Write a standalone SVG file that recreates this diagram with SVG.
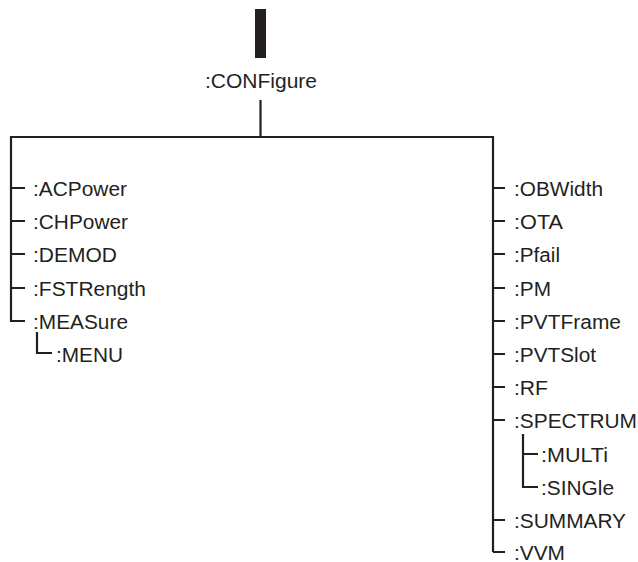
<svg xmlns="http://www.w3.org/2000/svg" width="638" height="562" viewBox="0 0 638 562">
<style>
  .t { font-family: "Liberation Sans", Arial, sans-serif; font-size: 20px; fill: #231f20; }
  .c { fill: none; stroke: #231f20; stroke-width: 2.2; stroke-linecap: butt; stroke-linejoin: miter; }
</style>
<rect width="638" height="562" fill="#ffffff"/>
<g id="root">
  <rect x="255" y="9" width="11" height="49" fill="#231f20"/>
  <text class="t" x="205" y="88" textLength="112" lengthAdjust="spacingAndGlyphs">:CONFigure</text>
</g>
<g id="connectors" class="c">
  <path d="M260.5 100 V137"/>
  <path d="M11 188 V137 H493 V552"/>
  <path d="M11 187 V321 H25"/>
  <path d="M11 188 H25 M11 221 H25 M11 254 H25 M11 288 H25"/>
  <path d="M37 332 V353 H52"/>
  <path d="M493 188 H505 M493 221 H505 M493 254 H505 M493 288 H505 M493 321 H505 M493 354 H505 M493 387 H505 M493 420 H505 M493 520 H505 M493 552 H505"/>
  <path d="M523 434 V487 H538 M523 454 H538"/>
</g>
<g id="n-acpower"><text class="t" x="33" y="195.5" textLength="94" lengthAdjust="spacingAndGlyphs">:ACPower</text></g>
<g id="n-chpower"><text class="t" x="33" y="228.5" textLength="95" lengthAdjust="spacingAndGlyphs">:CHPower</text></g>
<g id="n-demod"><text class="t" x="33" y="261.5" textLength="84" lengthAdjust="spacingAndGlyphs">:DEMOD</text></g>
<g id="n-fstrength"><text class="t" x="33" y="295.5" textLength="113" lengthAdjust="spacingAndGlyphs">:FSTRength</text></g>
<g id="n-measure"><text class="t" x="33" y="328.5" textLength="95" lengthAdjust="spacingAndGlyphs">:MEASure</text></g>
<g id="n-menu"><text class="t" x="56" y="361.5" textLength="67" lengthAdjust="spacingAndGlyphs">:MENU</text></g>
<g id="n-obwidth"><text class="t" x="514" y="195.5" textLength="89" lengthAdjust="spacingAndGlyphs">:OBWidth</text></g>
<g id="n-ota"><text class="t" x="514" y="228.5" textLength="49" lengthAdjust="spacingAndGlyphs">:OTA</text></g>
<g id="n-pfail"><text class="t" x="514" y="261.5" textLength="46" lengthAdjust="spacingAndGlyphs">:Pfail</text></g>
<g id="n-pm"><text class="t" x="514" y="295.5" textLength="37" lengthAdjust="spacingAndGlyphs">:PM</text></g>
<g id="n-pvtframe"><text class="t" x="514" y="328.5" textLength="107" lengthAdjust="spacingAndGlyphs">:PVTFrame</text></g>
<g id="n-pvtslot"><text class="t" x="514" y="361.5" textLength="82" lengthAdjust="spacingAndGlyphs">:PVTSlot</text></g>
<g id="n-rf"><text class="t" x="514" y="394.5" textLength="34" lengthAdjust="spacingAndGlyphs">:RF</text></g>
<g id="n-spectrum"><text class="t" x="514" y="427.5" textLength="123" lengthAdjust="spacingAndGlyphs">:SPECTRUM</text></g>
<g id="n-multi"><text class="t" x="541" y="461.5" textLength="67" lengthAdjust="spacingAndGlyphs">:MULTi</text></g>
<g id="n-single"><text class="t" x="541" y="494.5" textLength="73" lengthAdjust="spacingAndGlyphs">:SINGle</text></g>
<g id="n-summary"><text class="t" x="514" y="527.5" textLength="112" lengthAdjust="spacingAndGlyphs">:SUMMARY</text></g>
<g id="n-vvm"><text class="t" x="514" y="559.5" textLength="51" lengthAdjust="spacingAndGlyphs">:VVM</text></g>
</svg>
